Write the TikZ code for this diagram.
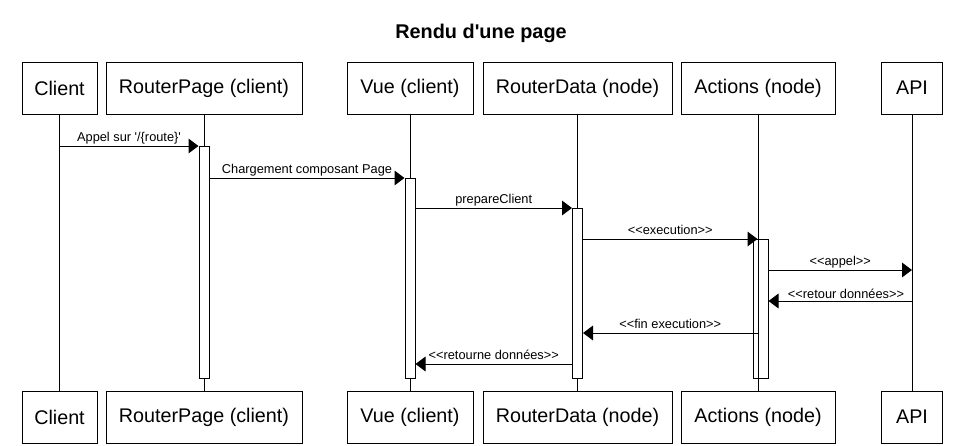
\documentclass[tikz,border=0pt]{standalone}
\usepackage{fontspec}
\setmainfont{Liberation Sans}[Ligatures=TeXOff]
\usetikzlibrary{arrows.meta,calc}
\begin{document}
\begin{tikzpicture}[x=0.75pt,y=-0.75pt,line width=0.75pt,
  actor/.style={draw,fill=white,minimum height=39pt,inner sep=0pt,font=\fontsize{14.8}{17}\selectfont},
  act/.style={draw,fill=white,minimum width=7.5pt,inner sep=0pt,anchor=north},
  msg/.style={-{Triangle[length=7.5pt,width=11pt]}},
  lbl/.style={font=\fontsize{9.6}{11}\selectfont,anchor=base,yshift=3.75pt,inner sep=0pt}]
\useasboundingbox (0,0) rectangle (960,446);
\node[font=\bfseries\fontsize{14.9}{17}\selectfont] (title) at (481,33) {Rendu d'une page};
% top actors
\node[actor,minimum width=56.25pt] (Ct) at (59.5,88) {Client};
\node[actor,minimum width=147pt] (RPt) at (204,88) {RouterPage (client)};
\node[actor,minimum width=94.5pt] (Vt) at (410,88) {Vue (client)};
\node[actor,minimum width=141.75pt] (RDt) at (577.5,88) {RouterData (node)};
\node[actor,minimum width=115.5pt] (At) at (758,88) {Actions (node)};
\node[actor,minimum width=45.75pt] (APIt) at (912,88) {API};
% bottom actors
\node[actor,minimum width=56.25pt] (Cb) at (59.5,417) {Client};
\node[actor,minimum width=147pt] (RPb) at (204,417) {RouterPage (client)};
\node[actor,minimum width=94.5pt] (Vb) at (410,417) {Vue (client)};
\node[actor,minimum width=141.75pt] (RDb) at (577.5,417) {RouterData (node)};
\node[actor,minimum width=115.5pt] (Ab) at (758,417) {Actions (node)};
\node[actor,minimum width=45.75pt] (APIb) at (912,417) {API};
% lifelines
\draw (Ct.south) -- (Cb.north);
\draw (RPt.south) -- (RPb.north);
\draw (Vt.south) -- (Vb.north);
\draw (RDt.south) -- (RDb.north);
\draw (At.south) -- (Ab.north);
\draw (APIt.south) -- (APIb.north);
% activations
\node[act,minimum height=174pt] (aRP) at (RPt |- 0,146) {};
\node[act,minimum height=150pt] (aV) at (Vt |- 0,178) {};
\node[act,minimum height=127.5pt] (aRD) at (RDt |- 0,208) {};
\node[act,minimum height=104.25pt] (aA1) at (At |- 0,239) {};
\node[act,minimum height=104.25pt] (aA2) at (763,239) {};
% messages
\draw[msg] (aRP.north west -| Ct) -- node[lbl]{Appel sur '/\{route\}'} (aRP.north west);
\draw[msg] (aV.north west -| aRP.east) -- node[lbl]{Chargement composant Page} (aV.north west);
\draw[msg] (aRD.north west -| aV.east) -- node[lbl]{prepareClient} (aRD.north west);
\draw[msg] (aA2.north west -| aRD.east) -- node[lbl]{<{}<execution>{}>} (aA2.north west);
\path (aA2.north east) ++(0,31) coordinate (s5);
\draw[msg] (s5) -- node[lbl]{<{}<appel>{}>} (s5 -| APIt);
\path (aA2.north east) ++(0,62) coordinate (s6);
\draw[msg] (s6 -| APIt) -- node[lbl,pos=0.46,yshift=-1.5pt]{<{}<retour données>{}>} (s6);
\path (aA2.north west) ++(0,94) coordinate (s7);
\draw[msg] (s7) -- node[lbl]{<{}<fin execution>{}>} (s7 -| aRD.east);
\path (aRD.north west) ++(0,156) coordinate (s8);
\draw[msg] (s8) -- node[lbl]{<{}<retourne données>{}>} (s8 -| aV.east);
\end{tikzpicture}
\end{document}
